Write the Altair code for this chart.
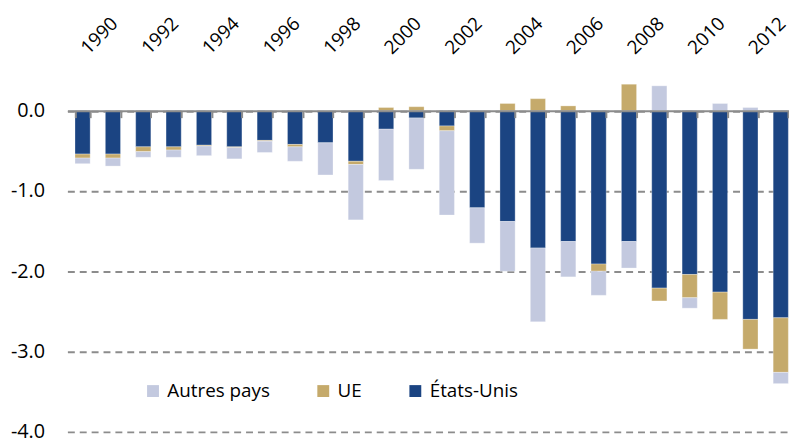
import altair as alt
import pandas as pd

# ---- data ----
years = list(range(1990, 2014))
etats_unis = [-0.54, -0.54, -0.45, -0.45, -0.43, -0.45, -0.37, -0.42, -0.40, -0.63,
              -0.23, -0.09, -0.19, -1.21, -1.38, -1.71, -1.63, -1.91, -1.63, -2.21,
              -2.04, -2.26, -2.60, -2.58]
ue = [-0.05, -0.05, -0.06, -0.04, -0.01, -0.01, -0.01, -0.03, 0.0, -0.04,
      0.04, 0.05, -0.06, 0.0, 0.09, 0.15, 0.06, -0.09, 0.33, -0.16,
      -0.29, -0.34, -0.37, -0.68]
autres = [-0.07, -0.10, -0.07, -0.09, -0.12, -0.14, -0.14, -0.18, -0.40, -0.69,
          -0.64, -0.64, -1.05, -0.44, -0.62, -0.92, -0.44, -0.30, -0.33, 0.31,
          -0.13, 0.09, 0.04, -0.14]
series_names = ["Autres pays", "UE", "États-Unis"]
series_colors = ["#C3C9DF", "#C5AA6B", "#1B4482"]
stack_rank = {"États-Unis": 0, "UE": 1, "Autres pays": 2}
year_labels = [str(y) for y in range(1990, 2013, 2)]
y_ticks = [0, -1, -2, -3, -4]

rows = []
for i, yr in enumerate(years):
    for name, vals in (("États-Unis", etats_unis), ("UE", ue), ("Autres pays", autres)):
        rows.append({"annee": str(yr), "serie": name, "valeur": vals[i], "rang": stack_rank[name]})
df = pd.DataFrame(rows)

# ---- layout ----
Y_MIN, Y_MAX = -4.1, 0.5
PLOT_W, PLOT_H = 729, 373
BAND_RANGE = 736
zero_offset = -PLOT_H * (0 - Y_MIN) / (Y_MAX - Y_MIN)
FONT = "Open Sans"
GRAY = "#8C8C8C"

x_scale = alt.Scale(range=[0, BAND_RANGE], paddingInner=0.5, paddingOuter=0.25)
y_scale = alt.Scale(domain=[Y_MIN, Y_MAX], nice=False, zero=False)

bars = alt.Chart(df).mark_bar(stroke="#FFFFFF", strokeWidth=0.5, strokeOpacity=0.6).encode(
    x=alt.X("annee:N", scale=x_scale, sort=None,
            axis=alt.Axis(orient="top", values=year_labels, title=None, labelAngle=-45,
                          labelAlign="left", labelBaseline="alphabetic", labelPadding=16,
                          labelOffset=6, ticks=False, tickSize=0, domain=False,
                          labelFont=FONT, labelFontSize=19, labelColor="#000000")),
    y=alt.Y("valeur:Q", stack="zero", scale=y_scale,
            axis=alt.Axis(orient="left", values=y_ticks, title=None, grid=True,
                          gridDash=[7, 5], gridColor=GRAY, gridWidth=2, domain=False,
                          ticks=False, labelPadding=23, labelFont=FONT, labelFontSize=20,
                          labelColor="#000000",
                          labelExpr="datum.value == 0 ? '0.0' : '-' + format(abs(datum.value), '.1f')")),
    color=alt.Color("serie:N", scale=alt.Scale(domain=series_names, range=series_colors),
                    legend=alt.Legend(title=None, orient="none", legendX=77, legendY=314,
                                      direction="horizontal", symbolType="square",
                                      symbolSize=144, symbolStrokeWidth=0, labelFont=FONT,
                                      labelFontSize=19, labelColor="#000000", labelOffset=5,
                                      columnPadding=44, padding=0)),
    order=alt.Order("rang:Q", sort="ascending"),
)

# invisible layer that only carries the zero line with its band ticks
zero_axis = alt.Chart(df).mark_rule(opacity=0).encode(
    x=alt.X("annee:N", scale=x_scale, sort=None,
            axis=alt.Axis(orient="bottom", offset=zero_offset, labels=False, title=None,
                          domainColor=GRAY, domainWidth=2, tickColor=GRAY, tickWidth=2,
                          tickSize=7, tickBand="extent", zindex=1, grid=False)),
)

chart = alt.layer(bars, zero_axis).properties(
    width=PLOT_W, height=PLOT_H,
    autosize=alt.AutoSizeParams(type="none"),
    padding={"left": 60, "top": 61, "right": 0, "bottom": 0},
).configure_view(strokeWidth=0)

chart.save("out.html", embed_options={"renderer": "svg", "actions": False})
